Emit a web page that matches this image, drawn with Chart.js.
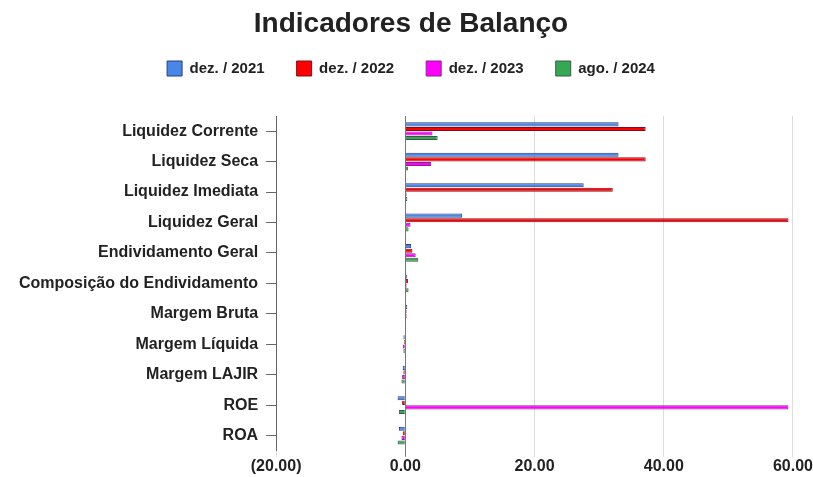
<!DOCTYPE html>
<html>
<head>
<meta charset="utf-8">
<script src="https://cdn.jsdelivr.net/npm/chart.js@4"></script>
<style>
  body { margin: 0; background: #fff; }
  #wrap { width: 813px; height: 477px; }
</style>
</head>
<body>
<div id="wrap"><canvas id="myChart"></canvas></div>
<script>
var categories = ['Liquidez Corrente', 'Liquidez Seca', 'Liquidez Imediata', 'Liquidez Geral',
  'Endividamento Geral', 'Composição do Endividamento', 'Margem Bruta', 'Margem Líquida',
  'Margem LAJIR', 'ROE', 'ROA'];
var seriesLabels = ['dez. / 2021', 'dez. / 2022', 'dez. / 2023', 'ago. / 2024'];
var dez2021 = [33.0, 33.0, 27.6, 8.8, 0.9, 0.3, 0.3, -0.3, -0.4, -1.2, -1.0];
var dez2022 = [37.2, 37.2, 32.1, 59.3, 1.1, 0.4, 0.2, -0.2, -0.3, -0.5, -0.4];
var dez2023 = [4.2, 4.0, 0.2, 0.8, 1.6, 0.2, 0.2, -0.4, -0.5, 59.3, -0.6];
var ago2024 = [5.0, 0.4, 0.3, 0.5, 2.0, 0.5, 0.1, -0.3, -0.6, -1.0, -1.2];

var fontFam = 'Liberation Sans, Arial, sans-serif';

// extra room under the legend
var legendGap = {
  id: 'legendGap',
  beforeInit: function (chart) {
    var fit = chart.legend.fit;
    chart.legend.fit = function () {
      fit.bind(chart.legend)();
      this.height += 30;
    };
  }
};

var ctx = document.getElementById('myChart').getContext('2d');
var myChart = new Chart(ctx, {
  type: 'bar',
  data: {
    labels: categories,
    datasets: [{
        label: seriesLabels[0],
        data: dez2021,
        backgroundColor: '#4a86e8',
        borderColor: '#2a3f7a',
        borderWidth: 1
      }, {
        label: seriesLabels[1],
        data: dez2022,
        backgroundColor: '#ff0000',
        borderColor: '#7a1020',
        borderWidth: 1
      }, {
        label: seriesLabels[2],
        data: dez2023,
        backgroundColor: '#ff00ff',
        borderColor: '#8a208a',
        borderWidth: 1
      }, {
        label: seriesLabels[3],
        data: ago2024,
        backgroundColor: '#34a853',
        borderColor: '#3a5a48',
        borderWidth: 1
      }
    ]
  },
  plugins: [legendGap],
  options: {
    indexAxis: 'y',
    responsive: true,
    maintainAspectRatio: false,
    animation: false,
    categoryPercentage: 0.6,
    barPercentage: 0.9,
    layout: { padding: { left: 11, right: 2, top: 0, bottom: 1 } },
    plugins: {
      title: {
        display: true,
        text: 'Indicadores de Balanço',
        color: '#222',
        font: { size: 28, weight: 'bold', family: fontFam, lineHeight: 1.0 },
        padding: { top: 10, bottom: -9 }
      },
      legend: {
        labels: {
          boxWidth: 15,
          boxHeight: 15,
          padding: 32,
          color: '#222',
          font: { size: 15, weight: 'bold', family: fontFam }
        }
      },
      tooltip: { enabled: false }
    },
    scales: {
      x: {
        min: -20,
        max: 60,
        ticks: {
          stepSize: 20,
          padding: 0,
          color: '#222',
          font: { size: 16, weight: 'bold', family: fontFam },
          callback: function (v) {
            var s = Math.abs(v).toFixed(2);
            return v < 0 ? '(' + s + ')' : s;
          }
        },
        grid: {
          color: function (c) { return c.tick && c.tick.value === 0 ? '#777' : '#dcdcdc'; },
          tickLength: 6
        },
        border: { display: false }
      },
      y: {
        ticks: {
          color: '#222',
          padding: 8,
          font: { size: 16, weight: 'bold', family: fontFam }
        },
        grid: {
          drawOnChartArea: false,
          offset: false,
          tickLength: 10,
          color: '#666'
        },
        border: { display: true, color: '#666', width: 1 }
      }
    }
  }
});
</script>
</body>
</html>
